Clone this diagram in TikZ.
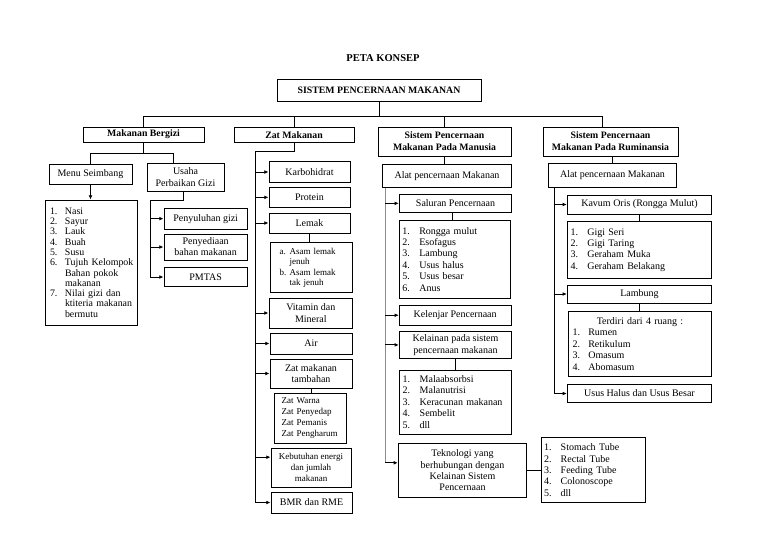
\documentclass[tikz,border=0pt]{standalone}
\usepackage{fontspec}
\setmainfont{Liberation Serif}
\usetikzlibrary{arrows.meta,calc}
\newcommand\bx[7]{%
 \pgfmathsetmacro\bxw{#4-#2}\pgfmathsetmacro\bxh{#5-#3}%
 \pgfmathsetmacro\bxcx{(#2+#4)/2}\pgfmathsetmacro\bxcy{(#3+#5)/2}%
 \node[box,minimum width=\bxw pt,minimum height=\bxh pt,#6] (#1) at (\bxcx,\bxcy) {#7};}
\newcommand\lbx[8]{%
 \pgfmathsetmacro\bxw{#4-#2}\pgfmathsetmacro\bxh{#5-#3}%
 \pgfmathsetmacro\bxcx{(#2+#4)/2}\pgfmathsetmacro\bxcy{(#3+#5)/2}%
 \pgfmathsetmacro\bxtw{#4-#2-2*#6}%
 \node[box,minimum width=\bxw pt,minimum height=\bxh pt,inner xsep=#6pt,text width=\bxtw pt,align=left,#7] (#1) at (\bxcx,\bxcy) {#8};}
\newcommand\lit[3][17pt]{\mbox{\makebox[#1][l]{#2}#3}}
\begin{document}
\begin{tikzpicture}[x=1pt,y=-1pt,
 box/.style={draw,line width=1pt,inner sep=0pt,align=center,font=\fontsize{10}{11.4}\selectfont},
 hd/.style={font=\bfseries\fontsize{9.8}{11.7}\selectfont},
 ln/.style={line width=0.9pt},
 arr/.style={line width=0.9pt,-{Latex[length=4.2pt,width=3.8pt]}},
 gln/.style={line width=0.9pt,draw=black!45},
]
\useasboundingbox[fill=white] (0,0) rectangle (768,543);

\node[font=\bfseries\fontsize{10.5}{12}\selectfont] (title) at (383,58) {PETA KONSEP};
\bx{main}{277}{79}{481}{101}{hd}{SISTEM PENCERNAAN MAKANAN}
\bx{mb}{83}{127}{204}{142}{hd}{Makanan Bergizi}
\bx{zm}{234}{127}{354}{142.5}{hd}{Zat Makanan}
\bx{man}{378}{127}{511}{156}{hd}{Sistem Pencernaan\\Makanan Pada Manusia}
\bx{rum}{543}{127}{678}{156}{hd}{Sistem Pencernaan\\Makanan Pada Ruminansia}

% left column
\bx{menu}{49}{164}{132}{184}{}{Menu Seimbang}
\bx{usaha}{147}{163}{224}{191}{}{Usaha\\Perbaikan Gizi}
\lbx{mlist}{45}{200}{137}{325}{5}{font=\fontsize{9.9}{10.3}\selectfont}{%
\lit[15pt]{1.}{Nasi}\\\lit[15pt]{2.}{Sayur}\\\lit[15pt]{3.}{Lauk}\\\lit[15pt]{4.}{Buah}\\\lit[15pt]{5.}{Susu}\\
\lit[15pt]{6.}{Tujuh Kelompok}\\\lit[15pt]{}{Bahan pokok}\\\lit[15pt]{}{makanan}\\
\lit[15pt]{7.}{Nilai gizi dan}\\\lit[15pt]{}{ktiteria makanan}\\\lit[15pt]{}{bermutu}}
\bx{peny}{164}{208.3}{247.3}{229}{}{Penyuluhan gizi}
\bx{pbm}{164}{234}{247.3}{260}{font=\fontsize{10}{11}\selectfont}{Penyediaan\\bahan makanan}
\bx{pmtas}{164}{267.3}{247.3}{286.7}{}{PMTAS}

% zat makanan column
\bx{karb}{269}{161.7}{350}{182.3}{}{Karbohidrat}
\bx{prot}{269}{187}{350}{207.7}{}{Protein}
\bx{lem}{269}{213}{350}{233}{}{Lemak}
\lbx{lemlist}{270.7}{242.7}{352.7}{292.7}{9}{font=\fontsize{9}{10.5}\selectfont}{%
\lit[10pt]{a.}{Asam lemak}\\\lit[10pt]{}{jenuh}\\\lit[10pt]{b.}{Asam lemak}\\\lit[10pt]{}{tak jenuh}}
\bx{vit}{269}{298}{352.7}{328}{font=\fontsize{10}{12.5}\selectfont}{Vitamin dan\\Mineral}
\bx{air}{270}{333}{352}{354}{}{Air}
\bx{zmt}{270}{359}{352}{388}{}{Zat makanan\\tambahan}
\lbx{zw}{274}{393}{346}{443}{7.7}{font=\fontsize{9}{10.7}\selectfont}{%
\mbox{Zat Warna}\\\mbox{Zat Penyedap}\\\mbox{Zat Pemanis}\\\mbox{Zat Pengharum}}
\bx{keb}{271}{448}{351}{487}{font=\fontsize{9}{10.8}\selectfont}{Kebutuhan energi\\dan jumlah\\makanan}
\bx{bmr}{271}{492}{352}{513}{}{BMR dan RME}

% manusia column
\bx{alat}{382.3}{164}{511.7}{187.3}{}{Alat pencernaan Makanan}
\bx{sal}{399.3}{194}{511.7}{212.7}{}{Saluran Pencernaan}
\lbx{sallist}{399.3}{220}{510.7}{298.3}{3}{font=\fontsize{10}{11.4}\selectfont}{%
\lit{1.}{Rongga mulut}\\\lit{2.}{Esofagus}\\\lit{3.}{Lambung}\\\lit{4.}{Usus halus}\\\lit{5.}{Usus besar}\\\lit{6.}{Anus}}
\bx{kel}{399.3}{305.5}{511}{325}{}{Kelenjar Pencernaan}
\bx{kla}{399.3}{331.5}{511.7}{358.3}{font=\fontsize{10}{11.5}\selectfont}{Kelainan pada sistem\\pencernaan makanan}
\lbx{klalist}{399.3}{370}{511.7}{434}{3.4}{font=\fontsize{10}{11.5}\selectfont}{%
\lit{1.}{Malaabsorbsi}\\\lit{2.}{Malanutrisi}\\\lit{3.}{Keracunan makanan}\\\lit{4.}{Sembelit}\\\lit{5.}{dll}}
\bx{tek}{398.3}{443.3}{526.7}{497.3}{font=\fontsize{10}{11.3}\selectfont}{Teknologi yang\\berhubungan dengan\\Kelainan Sistem\\Pencernaan}
\lbx{teklist}{541.7}{437.3}{645}{502.7}{2.3}{font=\fontsize{10}{11.4}\selectfont}{%
\lit[16.7pt]{1.}{Stomach Tube}\\\lit[16.7pt]{2.}{Rectal Tube}\\\lit[16.7pt]{3.}{Feeding Tube}\\\lit[16.7pt]{4.}{Colonoscope}\\\lit[16.7pt]{5.}{dll}}

% ruminansia column
\bx{ralat}{548.3}{163.3}{676.7}{187.7}{}{Alat pencernaan Makanan}
\bx{kav}{567.3}{195}{711.7}{214}{}{Kavum Oris (Rongga Mulut)}
\lbx{kavlist}{567.3}{221.7}{711.7}{278.3}{3.4}{font=\fontsize{10}{11.4}\selectfont}{%
\lit[16.6pt]{1.}{Gigi Seri}\\\lit[16.6pt]{2.}{Gigi Taring}\\\lit[16.6pt]{3.}{Geraham Muka}\\\lit[16.6pt]{4.}{Geraham Belakang}}
\bx{lamb}{567.3}{285}{711.7}{303}{}{Lambung}
\lbx{terd}{568.3}{311.7}{711.7}{376}{4.4}{font=\fontsize{10}{11.4}\selectfont}{%
\makebox[\bxtw pt]{Terdiri dari 4 ruang :}\\\lit[15.6pt]{1.}{Rumen}\\\lit[15.6pt]{2.}{Retikulum}\\\lit[15.6pt]{3.}{Omasum}\\\lit[15.6pt]{4.}{Abomasum}}
\bx{usus}{567.3}{384.3}{711.7}{402.7}{}{Usus Halus dan Usus Besar}

% top connectors
\coordinate (tj) at ($(main.south)+(0,15)$);
\coordinate (rj) at ($(rum.north)+(-8,0)$);
\draw[ln] (main.south) -- (tj);
\draw[ln] (mb.north) |- (rj |- tj) -- (rj);
\draw[ln] (zm.north) -- (zm.north |- tj);
\draw[ln] (man.north) -- (man.north |- tj);

% left connectors
\coordinate (mbj) at ($(mb.south)+(0,10.7)$);
\coordinate (uj) at ($(usaha.north)+(-11.6,0)$);
\draw[ln] (mb.south) -- (mbj);
\draw[ln] (menu.north) |- (mbj) -| (uj);
\draw[arr] (menu.south) -- (menu.south |- mlist.north);
\coordinate (us) at ($(usaha.south)+(-1.6,0)$);
\coordinate (us2) at ($(peny.north west)+(-13,-7.6)$);
\draw[arr] (us) |- (us2) |- (pmtas.west);
\draw[arr] (us2 |- peny.west) -- (peny.west);
\draw[arr] (us2 |- pbm.west) -- (pbm.west);

% zat connectors
\coordinate (zs) at ($(karb.north west)+(-13,-10)$);
\coordinate (kebin) at ($(keb.north west)+(0,9.7)$);
\draw[arr] (zm.south) |- (zs) |- (bmr.west);
\foreach \n in {karb,prot,lem,vit,air,zmt}{\draw[arr] (zs |- \n.west) -- (\n.west);}
\draw[arr] (zs |- kebin) -- (kebin);
\draw[ln] (lem.south) -- (lem.south |- lemlist.north);
\draw[ln] (zmt.south) -- (zmt.south |- zw.north);

% manusia connectors
\coordinate (ms) at ($(alat.south west)+(3.4,0)$);
\coordinate (tekin) at ($(tek.north west)+(0,20)$);
\draw[ln] (man.south) -- (man.south |- alat.north);
\draw[gln] (ms) -- (ms |- tekin);
\draw[arr] (ms |- tekin) -- (tekin);
\foreach \n in {sal,kel,kla}{\draw[arr] (ms |- \n.west) -- (\n.west);}
\coordinate (sc) at ($(sal.south)+(-3,0)$);
\draw[ln] (sc) -- (sc |- sallist.north);
\draw[ln] (kla.south) -- (kla.south |- klalist.north);
\draw[ln] (tek.east) -- (tek.east -| teklist.west);

% ruminansia connectors
\coordinate (rs) at ($(ralat.south west)+(6.7,0)$);
\draw[ln] (ralat.north |- rum.south) -- (ralat.north);
\draw[arr] (rs) |- (usus.west);
\foreach \n in {kav,lamb}{\draw[arr] (rs |- \n.west) -- (\n.west);}
\draw[ln] (kav.south) -- (kav.south |- kavlist.north);
\draw[ln] (lamb.south) -- (lamb.south |- terd.north);
\end{tikzpicture}
\end{document}
